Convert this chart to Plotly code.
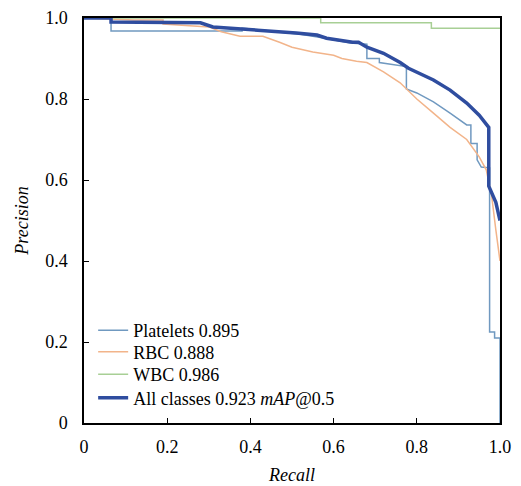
import plotly.graph_objects as go

# ---- data ----
plt_r = [0, 0.065, 0.065, 0.38, 0.38, 0.45, 0.52, 0.58, 0.64, 0.68, 0.68, 0.71, 0.71, 0.775, 0.775,
         0.80, 0.84, 0.88, 0.92, 0.93, 0.93, 0.945, 0.945, 0.955, 0.975, 0.975, 0.987, 0.987, 1.0, 1.0]
plt_p = [1, 1, 0.968, 0.968, 0.975, 0.968, 0.960, 0.950, 0.938, 0.935, 0.90, 0.90, 0.89, 0.88, 0.825,
         0.815, 0.793, 0.765, 0.736, 0.736, 0.69, 0.69, 0.65, 0.632, 0.63, 0.225, 0.225, 0.21, 0.21, 0]

rbc_r = [0, 0.12, 0.19, 0.19, 0.30, 0.33, 0.375, 0.43, 0.47, 0.50, 0.55, 0.60, 0.62, 0.655, 0.68,
         0.72, 0.76, 0.80, 0.84, 0.88, 0.92, 0.95, 0.967, 0.98, 0.99, 0.997, 1.0]
rbc_p = [1, 0.995, 0.995, 0.985, 0.978, 0.966, 0.955, 0.955, 0.94, 0.928, 0.916, 0.908, 0.90, 0.893, 0.89,
         0.867, 0.84, 0.80, 0.765, 0.73, 0.70, 0.657, 0.625, 0.56, 0.477, 0.42, 0.40]

wbc_r = [0, 0.569, 0.569, 0.835, 0.835, 1.0]
wbc_p = [1, 1, 0.988, 0.988, 0.975, 0.975]

all_r = [0, 0.065, 0.065, 0.12, 0.12, 0.28, 0.31, 0.38, 0.44, 0.51, 0.56, 0.583, 0.646, 0.66, 0.68,
         0.72, 0.76, 0.78, 0.84, 0.88, 0.92, 0.95, 0.973, 0.973, 0.99, 1.0]
all_p = [1, 1, 0.99, 0.99, 0.988, 0.988, 0.978, 0.973, 0.97, 0.963, 0.958, 0.95, 0.94, 0.94, 0.928,
         0.913, 0.89, 0.876, 0.847, 0.822, 0.79, 0.76, 0.73, 0.585, 0.545, 0.50]

series_names = ["Platelets 0.895", "RBC 0.888", "WBC 0.986", "All classes 0.923 <i>mAP</i>@0.5"]
tick_vals = [0, 0.2, 0.4, 0.6, 0.8, 1.0]
tick_text = ["0", "0.2", "0.4", "0.6", "0.8", "1.0"]

FONT = "Times New Roman, Liberation Serif, DejaVu Serif, serif"

series = [
    (plt_r, plt_p, "#7099c0", 1.5),
    (rbc_r, rbc_p, "#f2b48a", 1.5),
    (wbc_r, wbc_p, "#a8cf95", 1.5),
    (all_r, all_p, "#2f4d9f", 3.5),
]
legend_ids = ["legend", "legend2", "legend3", "legend4"]
legend_y = [0.228, 0.1753, 0.1195, 0.0617]

fig = go.Figure()
for (r, p, col, w), name, lid in zip(series, series_names, legend_ids):
    fig.add_trace(go.Scatter(x=r, y=p, mode="lines", name=name, legend=lid,
                             line=dict(color=col, width=w)))

axis_common = dict(
    range=[0, 1], tickvals=tick_vals, ticktext=tick_text,
    showgrid=False, zeroline=False, automargin=False,
    showline=True, linecolor="black", linewidth=1.5, mirror=True,
    ticks="inside", ticklen=5, tickcolor="black", tickwidth=1,
    tickfont=dict(family=FONT, size=18, color="black"),
)

legend_layout = {}
for lid, ly in zip(legend_ids, legend_y):
    legend_layout[lid] = dict(x=0.022, y=ly, xanchor="left", yanchor="middle",
                              bgcolor="rgba(0,0,0,0)", font=dict(family=FONT, size=18),
                              itemwidth=30)

fig.update_layout(
    width=513, height=478,
    margin=dict(l=76, r=21, t=10, b=63),
    paper_bgcolor="white", plot_bgcolor="white",
    font=dict(family=FONT, size=18, color="black"),
    xaxis=dict(axis_common, ticklabelstandoff=7,
               title=dict(text="<i>Recall</i>", font=dict(family=FONT, size=18), standoff=12)),
    yaxis=dict(axis_common, ticklabelstandoff=11,
               title=dict(text="<i>Precision</i>", font=dict(family=FONT, size=18), standoff=12)),
    showlegend=True,
    **legend_layout,
)

fig.write_html("out.html")
